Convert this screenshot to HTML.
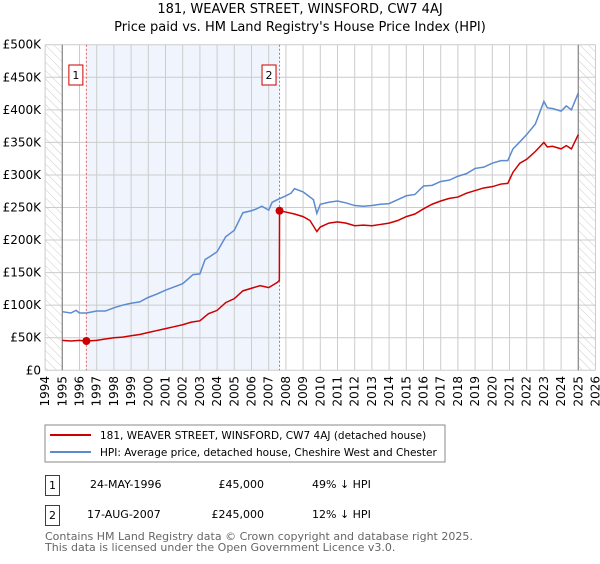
<!DOCTYPE html>
<html><head><meta charset="utf-8"><style>
body{margin:0;background:#fff;width:600px;height:560px;overflow:hidden;font-family:"DejaVu Sans","Liberation Sans",sans-serif}
svg text{font-family:"DejaVu Sans","Liberation Sans",sans-serif}
</style></head><body>
<svg id="chart" width="600" height="560" viewBox="0 0 600 560">
<defs><pattern id="hatch" width="6" height="6" patternUnits="userSpaceOnUse" patternTransform="rotate(-45)"><line x1="0" y1="0" x2="0" y2="6" stroke="#ccc" stroke-width="1"/></pattern></defs>
<text x="300" y="13" text-anchor="middle" font-size="13">181, WEAVER STREET, WINSFORD, CW7 4AJ</text>
<text x="300" y="31" text-anchor="middle" font-size="13">Price paid vs. HM Land Registry's House Price Index (HPI)</text>
<g id="plot"></g>
<rect x="45" y="425" width="400" height="37" fill="#fff" stroke="#888"/>
<line x1="50" y1="435" x2="91" y2="435" stroke="#cc0000" stroke-width="2"/>
<text x="100" y="439" font-size="10.5">181, WEAVER STREET, WINSFORD, CW7 4AJ (detached house)</text>
<line x1="50" y1="452" x2="91" y2="452" stroke="#5b8bd0" stroke-width="2"/>
<text x="100" y="456" font-size="10.5">HPI: Average price, detached house, Cheshire West and Chester</text>
<g>
<rect x="45.5" y="475.5" width="14" height="20" fill="#fff" stroke="#cc0000"/>
<text x="52.5" y="489" font-size="11" text-anchor="middle">1</text>
<text x="90" y="488" font-size="11">24-MAY-1996</text>
<text x="264" y="488" font-size="11" text-anchor="end">£45,000</text>
<text x="312" y="488" font-size="11">49% ↓ HPI</text></g>
<g>
<rect x="45.5" y="505.5" width="14" height="20" fill="#fff" stroke="#cc0000"/>
<text x="52.5" y="519" font-size="11" text-anchor="middle">2</text>
<text x="87" y="518" font-size="11">17-AUG-2007</text>
<text x="264" y="518" font-size="11" text-anchor="end">£245,000</text>
<text x="312" y="518" font-size="11">12% ↓ HPI</text></g>
<text x="45" y="540" font-size="11" fill="#666">Contains HM Land Registry data © Crown copyright and database right 2025.</text>
<text x="45" y="551" font-size="11" fill="#666">This data is licensed under the Open Government Licence v3.0.</text>
</svg>
<script>
const yTicks=[0,50,100,150,200,250,300,350,400,450,500];
const yTickLabels=["£0","£50K","£100K","£150K","£200K","£250K","£300K","£350K","£400K","£450K","£500K"];
const xYears=[1994,1995,1996,1997,1998,1999,2000,2001,2002,2003,2004,2005,2006,2007,2008,2009,2010,2011,2012,2013,2014,2015,2016,2017,2018,2019,2020,2021,2022,2023,2024,2025,2026];
const hpiT=[1995,1995.5,1995.8,1996,1996.4,1997,1997.5,1998,1998.5,1999,1999.5,2000,2000.5,2001,2001.5,2002,2002.3,2002.6,2003,2003.3,2003.6,2004,2004.5,2005,2005.5,2006,2006.3,2006.6,2007,2007.2,2007.5,2008,2008.3,2008.5,2009,2009.3,2009.6,2009.8,2010,2010.5,2011,2011.5,2012,2012.5,2013,2013.5,2014,2014.5,2015,2015.5,2016,2016.5,2017,2017.5,2018,2018.5,2019,2019.5,2020,2020.5,2020.9,2021.2,2021.5,2022,2022.5,2023,2023.2,2023.5,2024,2024.3,2024.6,2025];
const hpiV=[90,88,92,88,88,91,91,96,100,103,105,112,117,123,128,133,140,147,148,170,175,182,205,215,242,245,248,252,246,258,262,268,272,279,274,268,262,241,255,258,260,257,253,252,253,255,256,262,268,270,283,284,290,292,298,302,310,312,318,322,322,340,348,362,378,413,403,402,398,406,400,426];
const saleT=[1996.4,2007.63];
const saleV=[45,245];
const ppT=[1995,1995.5,1996,1996.4,1997,1997.5,1998,1998.5,1999,1999.5,2000,2000.5,2001,2001.5,2002,2002.5,2003,2003.5,2004,2004.5,2005,2005.5,2006,2006.5,2007,2007.5,2007.62,2007.63,2008,2008.5,2009,2009.4,2009.8,2010,2010.5,2011,2011.5,2012,2012.5,2013,2013.5,2014,2014.5,2015,2015.5,2016,2016.5,2017,2017.5,2018,2018.5,2019,2019.5,2020,2020.5,2020.9,2021.2,2021.6,2022,2022.5,2023,2023.2,2023.5,2024,2024.3,2024.6,2025];
const ppV=[46,45,46,45,46,48,50,51,53,55,58,61,64,67,70,74,76,87,92,104,110,122,126,130,127,135,138,245,243,240,236,230,213,220,226,228,226,222,223,222,224,226,230,236,240,248,255,260,264,266,272,276,280,282,286,287,304,318,324,336,350,343,344,340,345,340,362];
const X0=45.1,PX=17.2,Y0=370.3,PY=325.6/500;
const xs=t=>X0+(t-1994)*PX, ys=v=>Y0-v*PY;
const NS="http://www.w3.org/2000/svg", g=document.getElementById('plot');
function mk(tag,at,parent){const e=document.createElementNS(NS,tag);for(const k in at)e.setAttribute(k,at[k]);(parent||g).appendChild(e);return e;}
let e;
e=mk('rect',{x:xs(1994),y:ys(500),width:xs(1995)-xs(1994),height:ys(0)-ys(500),fill:'url(#hatch)'});


e=mk('rect',{x:xs(2025),y:ys(500),width:xs(2026)-xs(2025),height:ys(0)-ys(500),fill:'url(#hatch)'});


e=mk('rect',{x:xs(saleT[0]),y:ys(500),width:xs(saleT[1])-xs(saleT[0]),height:ys(0)-ys(500),fill:'#f0f4fc'});


yTicks.forEach((v,i)=>{
 e=mk('line',{x1:xs(1994),x2:xs(2026),y1:ys(v),y2:ys(v),stroke:'#ccc'});
 
 
 e=mk('text',{x:41,y:ys(v)+4,'text-anchor':'end','font-size':12});
 e.textContent=yTickLabels[i];
 
 
});
xYears.forEach(y=>{
 e=mk('line',{x1:xs(y),x2:xs(y),y1:ys(500),y2:ys(0),stroke:'#ccc'});
 
 
 e=mk('text',{x:0,y:0,'font-size':12,'text-anchor':'end',transform:`translate(${xs(y)+4},376) rotate(-90)`});
 e.textContent=y;
 
 
});
[1995,2025].forEach(y=>{
 e=mk('line',{x1:xs(y),x2:xs(y),y1:ys(500),y2:ys(0),stroke:'#888','stroke-width':1.2});
 
 
});
saleT.forEach((t,i)=>{
 e=mk('line',{x1:xs(t),x2:xs(t),y1:ys(500),y2:ys(0),stroke:'#e06060','stroke-dasharray':'2,2'});
 
 
 e=mk('rect',{x:xs(t)-17.5,y:ys(455)-9,width:14,height:20,fill:'#fff',stroke:'#cc0000'});
 
 
 e=mk('text',{x:xs(t)-10.5,y:ys(455)+5,'font-size':11,'text-anchor':'middle'});
 e.textContent=String(i+1);
 
 
});
e=mk('polyline',{points:hpiT.map((t,i)=>xs(t)+','+ys(hpiV[i])).join(' '),fill:'none',stroke:'#5b8bd0','stroke-width':1.5});


e=mk('polyline',{points:ppT.map((t,i)=>xs(t)+','+ys(ppV[i])).join(' '),fill:'none',stroke:'#cc0000','stroke-width':1.5});


saleT.forEach((t,i)=>{
 e=mk('circle',{cx:xs(t),cy:ys(saleV[i]),r:4,fill:'#cc0000'});
 
 
});
</script>
</body></html>
